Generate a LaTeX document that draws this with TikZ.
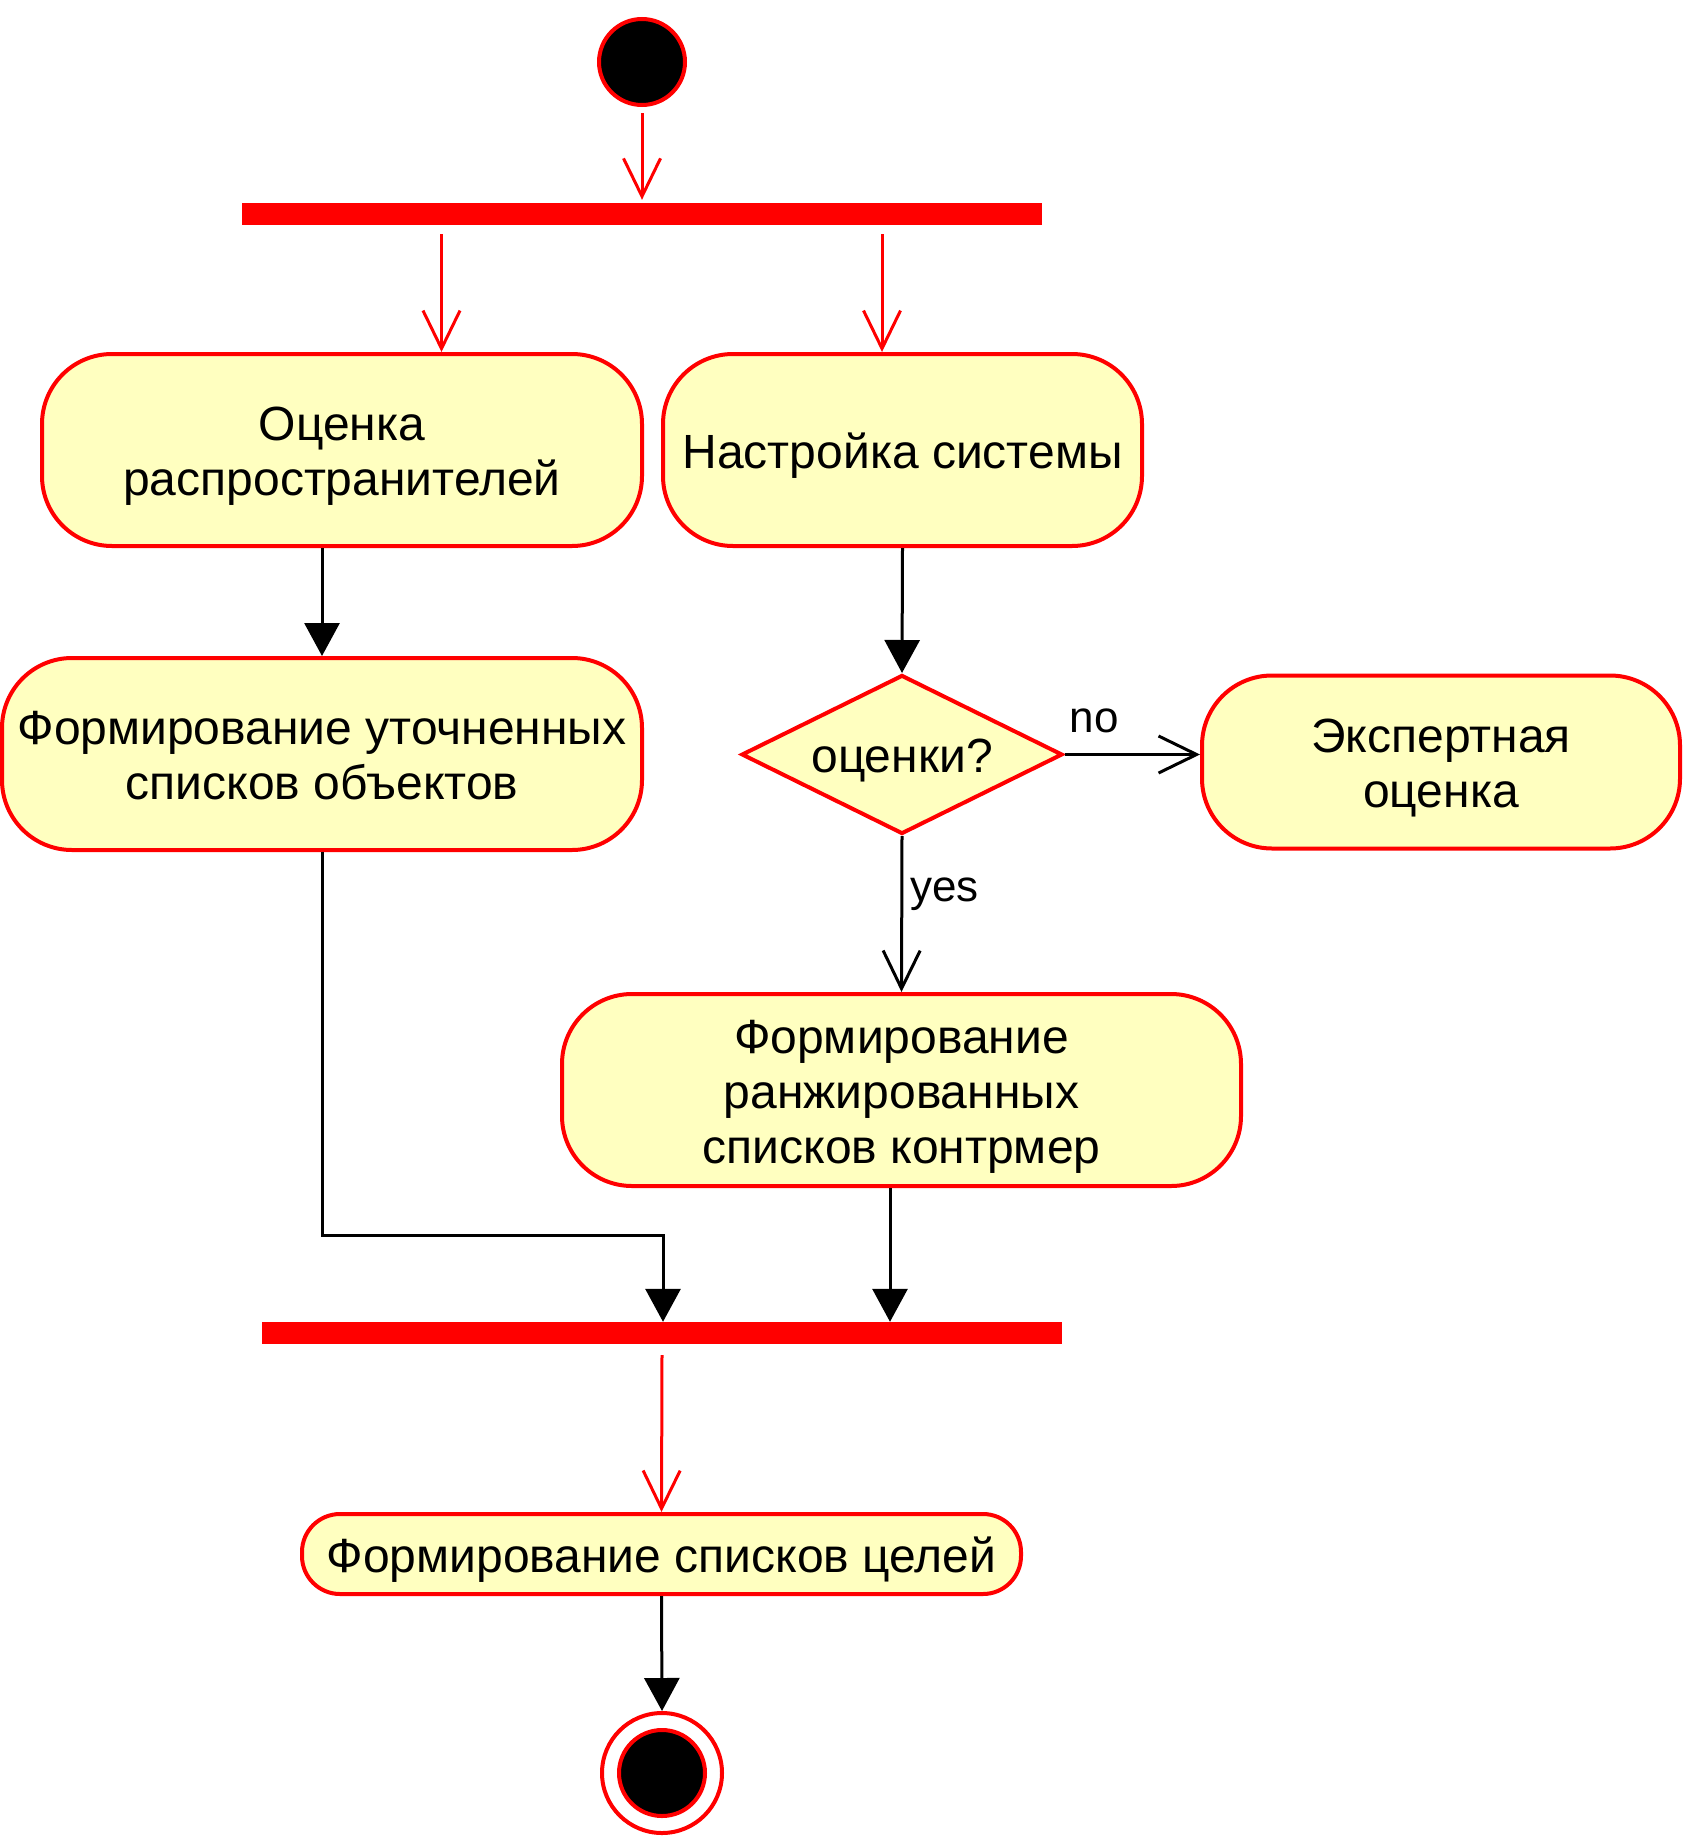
\documentclass[tikz,border=0pt]{standalone}
\usepackage{fontspec}
\setmainfont{Liberation Sans}
\usetikzlibrary{arrows.meta,shapes.geometric,calc}
\definecolor{boxfill}{HTML}{FFFFC0}
\definecolor{umlred}{HTML}{FF0000}
\newcommand\tstart{\rule{0pt}{46pt}}
\newcommand\tend{\rule[-10pt]{0pt}{10pt}}
\begin{document}
\begin{tikzpicture}[x=1pt,y=-1pt,
  act/.style={draw=umlred,fill=boxfill,line width=4pt,rounded corners=70pt,inner sep=0pt,align=center,font=\fontsize{48}{55}\selectfont},
  bar/.style={fill=umlred,draw=none,minimum width=800pt,minimum height=22pt,inner sep=0pt},
  ra/.style={draw=umlred,line width=3pt,-{Straight Barb[length=38pt,width=37pt]}},
  ba/.style={draw=black,line width=3pt,-{Triangle[length=33pt,width=35pt]}},
  bo/.style={draw=black,line width=3pt,-{Straight Barb[length=38pt,width=37pt]}},
  lbl/.style={font=\fontsize{44}{50}\selectfont,inner sep=0pt}]
\useasboundingbox[fill=white] (0,0) rectangle (1684,1836);

\node[circle,fill=black,draw=umlred,line width=4pt,minimum size=86pt,inner sep=0pt] (start) at (642,62) {};
\node[bar] (fork) at (642,214) {};
\node[act,minimum width=600pt,minimum height=192pt] (A) at (342,450) {\tstart Оценка\\распространителей\tend};
\node[act,minimum width=479pt,minimum height=192pt] (B) at (902.5,450) {\tstart Настройка системы\tend};
\node[act,minimum width=640pt,minimum height=192pt] (C) at (322,754) {\tstart Формирование уточненных\\списков объектов\tend};
\node[diamond,shape aspect=2,draw=umlred,fill=boxfill,line width=4pt,minimum width=321pt,minimum height=159pt,inner sep=0pt,font=\fontsize{48}{55}\selectfont] (dia) at (902,754.5) {\tstart оценки?\tend};
\node[act,minimum width=478pt,minimum height=173pt] (D) at (1441,762) {\tstart Экспертная\\оценка\tend};
\node[act,minimum width=679pt,minimum height=192pt] (E) at (901.5,1090) {\tstart Формирование\\ранжированных\\списков контрмер\tend};
\node[bar] (join) at (662,1333) {};
\node[act,rounded corners=38pt,minimum width=719pt,minimum height=80pt] (F) at (661.5,1554) {\tstart Формирование списков целей\tend};
\node[circle,draw=umlred,fill=white,line width=4pt,minimum size=120pt,inner sep=0pt] (endo) at (662,1773) {};
\node[circle,fill=black,draw=umlred,line width=4pt,minimum size=86pt,inner sep=0pt] (endi) at (662,1773) {};

\draw[ra] ([yshift=-6pt]start.south) -- ([yshift=3pt]fork.north);
\draw[ra] ([xshift=-200.5pt,yshift=-9pt]fork.south) -- ([xshift=99.5pt]A.north);
\draw[ra] ([xshift=240pt,yshift=-9pt]fork.south) -- ([xshift=-20.5pt]B.north);
\draw[ba] ([xshift=-20pt]A.south) -- (C.north);
\draw[ba] (B.south) -- (dia.north);
\draw[bo] (dia.east) -- (dia.east -| D.west) node[lbl,pos=0.22,above=20pt] (no) {no};
\draw[bo] (dia.south) -- (E.north) node[lbl,pos=0.375,right=7pt] (yes) {yes};
\draw[ba] (C.south) -- ++(0,383) -| ([xshift=1pt]join.north);
\draw[ba] ([xshift=-11.5pt]E.south) -- ([xshift=228pt]join.north);
\draw[ra] ([yshift=-11pt]join.south) -- (F.north);
\draw[ba] (F.south) -- (endo.north);
\end{tikzpicture}
\end{document}
